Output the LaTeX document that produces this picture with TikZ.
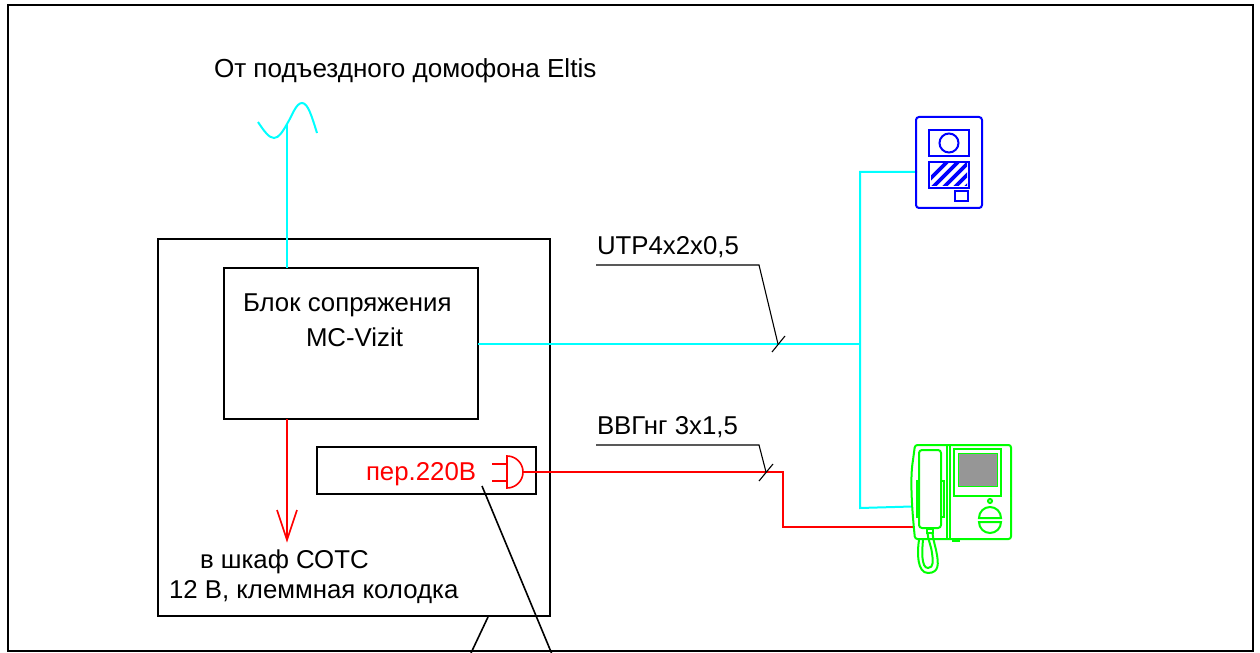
\documentclass[tikz,border=0pt]{standalone}
\usepackage{fontspec}
\setmainfont{Liberation Sans}
\usetikzlibrary{calc}
\definecolor{cy}{RGB}{0,255,255}
\definecolor{rd}{RGB}{255,0,0}
\definecolor{gn}{RGB}{0,255,0}
\definecolor{bl}{RGB}{0,0,255}
\definecolor{scr}{RGB}{150,150,150}
\tikzset{
  box/.style={draw=black,line width=1.8bp,inner sep=0,outer sep=0,rectangle},
  txt/.style={inner sep=0,outer sep=0,anchor=base west,font=\fontsize{25.8bp}{28bp}\selectfont,text=black},
  cyanw/.style={draw=cy,line width=2bp,line join=miter},
  redw/.style={draw=rd,line width=2bp,line join=miter},
  thin leader/.style={draw=black,line width=1.1bp},
  gnl/.style={draw=gn,line width=2bp},
  bll/.style={draw=bl,line width=2bp},
}
\begin{document}
\begin{tikzpicture}[x=1bp,y=-1bp]
\useasboundingbox (0,0) rectangle (1260,653);
\fill[white] (0,0) rectangle (1260,653);
% frame
\node[box,minimum width=1245bp,minimum height=646bp] (frame) at (630.5,328) {};
% cabinet and blocks
\node[box,minimum width=392bp,minimum height=377bp] (cab) at (354,427.5) {};
\node[box,minimum width=254bp,minimum height=151bp] (mc) at (351,343.5) {};
\node[box,line width=1.5bp,minimum width=219bp,minimum height=47bp] (per) at (426.5,470.5) {};
% texts
\node[txt,font=\fontsize{26.1bp}{28bp}\selectfont] (t1) at (214,78) {От подъездного домофона Eltis};
\node[txt] (t2) at (243,311) {Блок сопряжения};
\node[txt] (t3) at (306,346) {MC-Vizit};
\node[txt] (t4) at (200,568) {в шкаф СОТС};
\node[txt] (t5) at (169,598) {12 В, клеммная колодка};
\node[txt,text=rd] (t6) at (366,480) {пер.220В};
\node[txt] (t7) at (597,254) {UTP4x2x0,5};
\node[txt] (t8) at (597,434) {ВВГнг 3х1,5};
% named junctions
\coordinate (wavejoin) at (287,124);
\coordinate (mcTop) at (287,268);
\coordinate (mcBot) at (287,419);
\coordinate (arrowEnd) at (287,540);
\coordinate (mcOut) at (478,344);
\coordinate (branch) at (860,344);
\coordinate (panelIn) at (917,172);
\coordinate (monIn) at (912,506.5);
\coordinate (plugOut) at (523,472);
\coordinate (monPow) at (914,527);
% cyan
\draw[cyanw] (258,122) .. controls (264,131) and (269,138) .. (274,138) .. controls (279,138) and (283,131) .. (wavejoin) .. controls (292,116) and (296,103) .. (302,103) .. controls (308,103) and (312,117) .. (317,133);
\draw[cyanw] (wavejoin) -- (mcTop);
\draw[cyanw] (mcOut) -- (branch);
\draw[cyanw] (panelIn) -- (860,172) -- (860,508) -- (monIn);
% red
\draw[redw,line width=1.6bp] (mcBot) -- (arrowEnd);
\draw[redw,line width=1.6bp] (277,510) -- (arrowEnd) -- (297,510);
\draw[redw] (plugOut) -- (783,472) -- (783,527) -- (monPow);
% plug
\draw[draw=rd,line width=1.6bp] (507,456) -- (507,488) arc[start angle=-90,end angle=90,x radius=16,y radius=-16] -- cycle;
\draw[draw=rd,line width=1.2bp] (492,464) -- (507,464) (492,481) -- (507,481);
% black leaders
\draw[box,line width=1.6bp] (482,486) -- (551.5,653);
\draw[box,line width=1.6bp] (488,617) -- (471,653);
\draw[thin leader] (596,265) -- (759,265) -- (778,344);
\draw[thin leader] (772,352) -- (785,336);
\draw[thin leader] (596,445) -- (759,445) -- (766,472);
\draw[thin leader] (759,481) -- (773,464);
% door panel
\draw[bll,rounded corners=3bp] (916,117) rectangle (982,208);
\draw[bll] (929,130) rectangle (969,156);
\draw[bll] (949,143) circle[radius=9.5];
\draw[bll] (929,162) rectangle (969,188);
\draw[bll] (955,191) rectangle (968,201);
\begin{scope}
\clip (931,164) rectangle (967,186);
\foreach \d in {-11,0,11,22,33,44}{
  \draw[bl,line width=3.8bp] (930+\d,190) -- (958+\d,162);
}
\end{scope}
% monitor
\draw[gnl,rounded corners=2.5bp] (915,445) -- (1011,445) -- (1011,539) -- (915,539) .. controls (912,510) and (910,480) .. (913,460) -- cycle;
\draw[gnl] (947,445) -- (947,539) (950,445) -- (950,539);
\draw[gnl] (953.5,448.5) rectangle (1001,496);
\draw[gn,line width=0.8bp,fill=scr] (958,453) rectangle (997,486);
\draw[gnl] (990,501) circle[radius=2];
\draw[gnl] (979,518) arc[start angle=180,end angle=360,radius=11] -- cycle;
\draw[gnl] (979,522) arc[start angle=180,end angle=0,radius=11] -- cycle;
\draw[gnl,rounded corners=3bp] (919,450) rectangle (941,528);
\draw[gnl] (919,481) -- (917,481) -- (917,517) -- (919,517);
\draw[gnl] (941,481) -- (943.5,481) -- (943.5,517) -- (941,517);
\draw[gnl] (927,529) rectangle (933,533);
\draw[gnl] (919,540) .. controls (917,552) and (917,573) .. (928,573) .. controls (940,573) and (938,562) .. (937,555) .. controls (936,548) and (933,540) .. (932.5,533);
\draw[gnl] (923,540) .. controls (922,550) and (921,568) .. (928,568) .. controls (934,568) and (933,560) .. (932,553) .. controls (931,545) and (928,540) .. (927.5,533);
\draw[gnl] (952,540.5) -- (960,540.5);
\end{tikzpicture}
\end{document}
